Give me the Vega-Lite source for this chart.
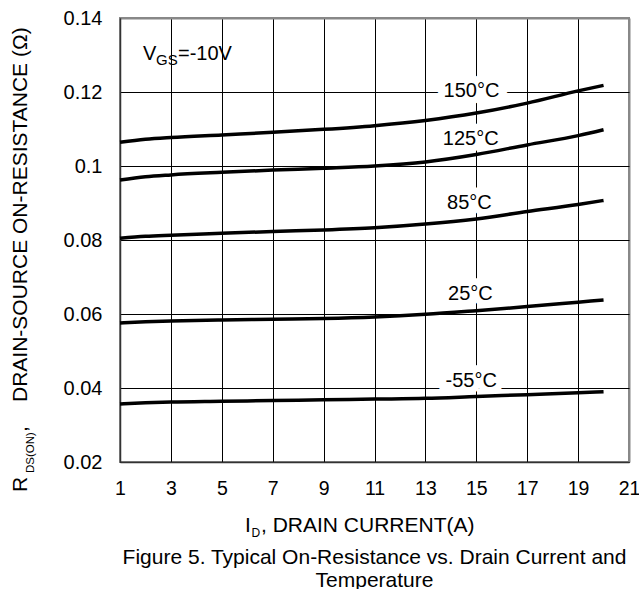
{
  "$schema": "https://vega.github.io/schema/vega-lite/v6.json",
  "autosize": "none",
  "width": 509,
  "height": 444,
  "padding": {"left": 120, "top": 18, "right": 10, "bottom": 127},
  "background": "white",
  "config": {
    "view": {"stroke": "#888888", "strokeWidth": 2},
    "font": "Liberation Sans",
    "text": {"font": "Liberation Sans", "fontWeight": "normal"}
  },
  "title": {
    "text": ["Figure 5. Typical On-Resistance vs. Drain Current and", "Temperature"],
    "orient": "bottom",
    "anchor": "middle",
    "font": "Liberation Sans",
    "fontSize": 21,
    "fontWeight": "normal",
    "color": "black",
    "lineHeight": 23,
    "offset": 8
  },
  "datasets": {
    "curves": [
      {"id": 1, "r": 0.1064, "t": "150"}, {"id": 2, "r": 0.1072, "t": "150"}, {"id": 3, "r": 0.1077, "t": "150"}, {"id": 5, "r": 0.1084, "t": "150"}, {"id": 7, "r": 0.1091, "t": "150"}, {"id": 9, "r": 0.1099, "t": "150"}, {"id": 11, "r": 0.1109, "t": "150"}, {"id": 13, "r": 0.1123, "t": "150"}, {"id": 15, "r": 0.1143, "t": "150"}, {"id": 17, "r": 0.1170, "t": "150"}, {"id": 19, "r": 0.1203, "t": "150"}, {"id": 20, "r": 0.1218, "t": "150"},
      {"id": 1, "r": 0.0962, "t": "125"}, {"id": 2, "r": 0.0971, "t": "125"}, {"id": 3, "r": 0.0976, "t": "125"}, {"id": 5, "r": 0.0983, "t": "125"}, {"id": 7, "r": 0.0989, "t": "125"}, {"id": 9, "r": 0.0994, "t": "125"}, {"id": 11, "r": 0.1000, "t": "125"}, {"id": 13, "r": 0.1011, "t": "125"}, {"id": 15, "r": 0.1031, "t": "125"}, {"id": 17, "r": 0.1057, "t": "125"}, {"id": 19, "r": 0.1082, "t": "125"}, {"id": 20, "r": 0.1098, "t": "125"},
      {"id": 1, "r": 0.0805, "t": "85"}, {"id": 2, "r": 0.0810, "t": "85"}, {"id": 3, "r": 0.0813, "t": "85"}, {"id": 5, "r": 0.0818, "t": "85"}, {"id": 7, "r": 0.0823, "t": "85"}, {"id": 9, "r": 0.0827, "t": "85"}, {"id": 11, "r": 0.0833, "t": "85"}, {"id": 13, "r": 0.0843, "t": "85"}, {"id": 15, "r": 0.0857, "t": "85"}, {"id": 17, "r": 0.0877, "t": "85"}, {"id": 19, "r": 0.0896, "t": "85"}, {"id": 20, "r": 0.0907, "t": "85"},
      {"id": 1, "r": 0.0576, "t": "25"}, {"id": 2, "r": 0.0579, "t": "25"}, {"id": 3, "r": 0.0581, "t": "25"}, {"id": 5, "r": 0.0584, "t": "25"}, {"id": 7, "r": 0.0586, "t": "25"}, {"id": 9, "r": 0.0588, "t": "25"}, {"id": 11, "r": 0.0592, "t": "25"}, {"id": 13, "r": 0.0599, "t": "25"}, {"id": 15, "r": 0.0609, "t": "25"}, {"id": 17, "r": 0.0620, "t": "25"}, {"id": 19, "r": 0.0632, "t": "25"}, {"id": 20, "r": 0.0638, "t": "25"},
      {"id": 1, "r": 0.0357, "t": "-55"}, {"id": 2, "r": 0.0360, "t": "-55"}, {"id": 3, "r": 0.0362, "t": "-55"}, {"id": 5, "r": 0.0364, "t": "-55"}, {"id": 7, "r": 0.0366, "t": "-55"}, {"id": 9, "r": 0.0368, "t": "-55"}, {"id": 11, "r": 0.0370, "t": "-55"}, {"id": 13, "r": 0.0372, "t": "-55"}, {"id": 15, "r": 0.0377, "t": "-55"}, {"id": 17, "r": 0.0382, "t": "-55"}, {"id": 19, "r": 0.0387, "t": "-55"}, {"id": 20, "r": 0.0390, "t": "-55"}
    ],
    "labels": [
      {"id": 14.81, "r": 0.1204, "label": "150°C"},
      {"id": 14.78, "r": 0.1072, "label": "125°C"},
      {"id": 14.73, "r": 0.0901, "label": "85°C"},
      {"id": 14.77, "r": 0.0653, "label": "25°C"},
      {"id": 14.80, "r": 0.0418, "label": "-55°C"}
    ]
  },
  "layer": [
    {
      "data": {"name": "labels"},
      "mark": {"type": "text", "fill": "white", "stroke": "white", "strokeWidth": 14, "fontSize": 20, "fontWeight": "normal", "baseline": "middle", "align": "center"},
      "encoding": {
        "x": {"field": "id", "type": "quantitative", "scale": {"domain": [1, 21], "nice": false, "zero": false},
          "axis": {"values": [1, 3, 5, 7, 9, 11, 13, 15, 17, 19, 21], "format": "d", "title": null, "grid": true,
            "gridColor": {"condition": {"test": "datum.value == 21", "value": "#888888"}, "value": "black"},
            "gridWidth": {"condition": {"test": "datum.value == 21", "value": 2}, "value": 1},
            "ticks": false, "tickSize": 0, "labelFont": "Liberation Sans", "labelFontSize": 19.5, "labelFontWeight": "normal", "labelColor": "black",
            "labelPadding": 17, "labelBaseline": "top", "labelFlush": false, "domainColor": "#333333", "domainWidth": 1.5}},
        "y": {"field": "r", "type": "quantitative", "scale": {"domain": [0.02, 0.14], "nice": false, "zero": false},
          "axis": {"values": [0.02, 0.04, 0.06, 0.08, 0.1, 0.12, 0.14], "format": "~g", "title": null, "grid": true,
            "gridColor": {"condition": {"test": "datum.value > 0.139", "value": "#888888"}, "value": "black"},
            "gridWidth": {"condition": {"test": "datum.value > 0.139", "value": 2}, "value": 1},
            "ticks": false, "tickSize": 0, "labelFont": "Liberation Sans", "labelFontSize": 20, "labelFontWeight": "normal", "labelColor": "black",
            "labelPadding": 18, "labelFlush": false, "domainColor": "#333333", "domainWidth": 1.5}},
        "text": {"field": "label"}
      }
    },
    {
      "data": {"name": "curves"},
      "mark": {"type": "line", "stroke": "black", "strokeWidth": 3.5, "interpolate": "monotone"},
      "encoding": {
        "x": {"field": "id", "type": "quantitative"},
        "y": {"field": "r", "type": "quantitative"},
        "detail": {"field": "t"}
      }
    },
    {
      "data": {"name": "labels"},
      "mark": {"type": "text", "fill": "black", "fontSize": 20, "fontWeight": "normal", "baseline": "middle", "align": "center"},
      "encoding": {
        "x": {"field": "id", "type": "quantitative"},
        "y": {"field": "r", "type": "quantitative"},
        "text": {"field": "label"}
      }
    },
    {
      "data": {"values": [{}]},
      "mark": {"type": "text", "fill": "black", "fontSize": 20, "fontWeight": "normal", "align": "left", "baseline": "alphabetic"},
      "encoding": {"x": {"datum": 1.904, "type": "quantitative"}, "y": {"datum": 0.12865, "type": "quantitative"}, "text": {"value": "V"}}
    },
    {
      "data": {"values": [{}]},
      "mark": {"type": "text", "fill": "black", "fontSize": 15, "fontWeight": "normal", "align": "left", "baseline": "alphabetic", "dx": 13, "dy": 5},
      "encoding": {"x": {"datum": 1.904, "type": "quantitative"}, "y": {"datum": 0.12865, "type": "quantitative"}, "text": {"value": "GS"}}
    },
    {
      "data": {"values": [{}]},
      "mark": {"type": "text", "fill": "black", "fontSize": 20, "fontWeight": "normal", "align": "left", "baseline": "alphabetic", "dx": 35},
      "encoding": {"x": {"datum": 1.904, "type": "quantitative"}, "y": {"datum": 0.12865, "type": "quantitative"}, "text": {"value": "=-10V"}}
    },
    {
      "data": {"values": [{}]},
      "mark": {"type": "text", "fill": "black", "fontSize": 21, "fontWeight": "normal", "align": "left", "baseline": "alphabetic"},
      "encoding": {"x": {"datum": 5.912, "type": "quantitative"}, "y": {"datum": 0.00108, "type": "quantitative"}, "text": {"value": "I"}}
    },
    {
      "data": {"values": [{}]},
      "mark": {"type": "text", "fill": "black", "fontSize": 12, "fontWeight": "normal", "align": "left", "baseline": "alphabetic", "dx": 6.5, "dy": 5},
      "encoding": {"x": {"datum": 5.912, "type": "quantitative"}, "y": {"datum": 0.00108, "type": "quantitative"}, "text": {"value": "D"}}
    },
    {
      "data": {"values": [{}]},
      "mark": {"type": "text", "fill": "black", "fontSize": 21, "fontWeight": "normal", "align": "left", "baseline": "alphabetic", "dx": 16},
      "encoding": {"x": {"datum": 5.912, "type": "quantitative"}, "y": {"datum": 0.00108, "type": "quantitative"}, "text": {"value": ", DRAIN CURRENT(A)"}}
    },
    {
      "data": {"values": [{}]},
      "mark": {"type": "text", "fill": "black", "fontSize": 21, "fontWeight": "normal", "align": "left", "baseline": "alphabetic", "angle": 270},
      "encoding": {"x": {"datum": -2.654, "type": "quantitative"}, "y": {"datum": 0.01189, "type": "quantitative"}, "text": {"value": "R"}}
    },
    {
      "data": {"values": [{}]},
      "mark": {"type": "text", "fill": "black", "fontSize": 11.5, "fontWeight": "normal", "align": "left", "baseline": "alphabetic", "angle": 270, "dx": 19, "dy": 7},
      "encoding": {"x": {"datum": -2.654, "type": "quantitative"}, "y": {"datum": 0.01189, "type": "quantitative"}, "text": {"value": "DS(ON)"}}
    },
    {
      "data": {"values": [{}]},
      "mark": {"type": "text", "fill": "black", "fontSize": 21, "fontWeight": "normal", "align": "left", "baseline": "alphabetic", "angle": 270, "dx": 60},
      "encoding": {"x": {"datum": -2.654, "type": "quantitative"}, "y": {"datum": 0.01189, "type": "quantitative"}, "text": {"value": ","}}
    },
    {
      "data": {"values": [{}]},
      "mark": {"type": "text", "fill": "black", "fontSize": 21, "fontWeight": "normal", "align": "left", "baseline": "alphabetic", "angle": 270, "dx": 90},
      "encoding": {"x": {"datum": -2.654, "type": "quantitative"}, "y": {"datum": 0.01189, "type": "quantitative"}, "text": {"value": "DRAIN-SOURCE ON-RESISTANCE (Ω)"}}
    }
  ]
}
